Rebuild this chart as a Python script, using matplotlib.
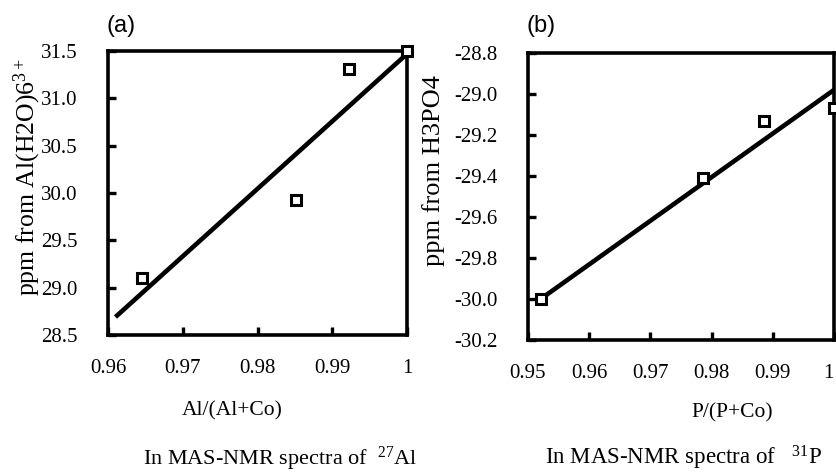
import matplotlib
matplotlib.use("Agg")
import matplotlib.pyplot as plt

plt.rcParams['font.family'] = ['Liberation Serif', 'DejaVu Serif']
plt.rcParams['mathtext.fontset'] = 'custom'
plt.rcParams['mathtext.rm'] = 'Liberation Serif'
plt.rcParams['mathtext.it'] = 'Liberation Serif:italic'

# (a) 27Al shifts versus Al fraction
al_frac = [0.9645, 0.9852, 0.9923, 1.0]
al_ppm = [29.10, 29.93, 31.31, 31.50]
al_fit_x = [0.961, 1.0]
al_fit_y = [28.69, 31.47]
al_xticks = [0.96, 0.97, 0.98, 0.99, 1.0]
al_xticklabels = ['0.96', '0.97', '0.98', '0.99', '1']
al_yticks = [28.5, 29.0, 29.5, 30.0, 30.5, 31.0, 31.5]

# (b) 31P shifts versus P fraction
p_frac = [0.9522, 0.9786, 0.9885, 1.0]
p_ppm = [-30.00, -29.41, -29.13, -29.07]
p_fit_x = [0.9516, 1.0]
p_fit_y = [-30.01, -28.98]
p_xticks = [0.95, 0.96, 0.97, 0.98, 0.99, 1.0]
p_xticklabels = ['0.95', '0.96', '0.97', '0.98', '0.99', '1']
p_yticks = [-30.2, -30.0, -29.8, -29.6, -29.4, -29.2, -29.0, -28.8]

W, H = 837, 474
fig = plt.figure(figsize=(W / 100, H / 100), dpi=100)


def px_axes(left, top, right, bottom):
    return fig.add_axes([left / W, 1 - bottom / H, (right - left) / W, (bottom - top) / H])


def style(ax):
    for s in ax.spines.values():
        s.set_linewidth(2.6)
    ax.tick_params(direction='in', length=6, width=2.4, labelsize=15,
                   top=False, right=False)
    ax.tick_params(axis='x', pad=17)
    ax.tick_params(axis='y', pad=22)


ax1 = px_axes(108, 51, 407, 335)
ax1.plot(al_fit_x, al_fit_y, color='black', lw=3.3, solid_capstyle='butt', zorder=2)
ax1.plot(al_frac, al_ppm, 's', ms=7.5, mfc='white', mec='black', mew=2.2,
         clip_on=False, zorder=3)
ax1.set_xlim(0.96, 1.0)
ax1.set_ylim(28.5, 31.5)
ax1.set_xticks(al_xticks)
ax1.set_xticklabels(al_xticklabels)
ax1.set_yticks(al_yticks)
ax1.set_yticklabels([f'{v:.1f}' for v in al_yticks])
style(ax1)
ax1.set_xlabel('Al/(Al+Co)', fontsize=15.5)
ax1.xaxis.label.set_va('center')
ax1.xaxis.set_label_coords(0.415, -0.268)
ax1.set_ylabel(r'ppm from Al(H2O)6$^{3+}$', fontsize=18.5)
ax1.yaxis.label.set_va('center')
ax1.yaxis.set_label_coords(-0.271, 0.556)

ax2 = px_axes(528, 53, 834, 340)
ax2.plot(p_fit_x, p_fit_y, color='black', lw=3.3, solid_capstyle='butt', zorder=2)
ax2.plot(p_frac, p_ppm, 's', ms=7.5, mfc='white', mec='black', mew=2.2,
         clip_on=False, zorder=3)
ax2.set_xlim(0.95, 1.0)
ax2.set_ylim(-30.2, -28.8)
ax2.set_xticks(p_xticks)
ax2.set_xticklabels(p_xticklabels)
ax2.get_xticklabels()[-1].set_ha('right')
ax2.set_yticks(p_yticks)
ax2.set_yticklabels([f'{v:.1f}' for v in p_yticks])
style(ax2)
ax2.set_xlabel('P/(P+Co)', fontsize=15.5)
ax2.xaxis.label.set_va('center')
ax2.xaxis.set_label_coords(0.667, -0.254)
ax2.set_ylabel('ppm from H3PO4', fontsize=19)
ax2.yaxis.label.set_va('center')
ax2.yaxis.set_label_coords(-0.31, 0.592)

# panel tags
fig.text(107 / W, 1 - 26 / H, '(a)', family='Liberation Sans', fontsize=17,
         ha='left', va='center')
fig.text(527 / W, 1 - 26 / H, '(b)', family='Liberation Sans', fontsize=17,
         ha='left', va='center')

# captions under each panel
fig.text(280 / W, 1 - 459 / H, r'In MAS-NMR spectra of  $^{27}$Al', fontsize=16,
         ha='center', va='center')
fig.text(545 / W, 1 - 458 / H, r'In MAS-NMR spectra of   $^{31}$P', fontsize=16.5,
         ha='left', va='center')

fig.savefig('out.png', dpi=100)
